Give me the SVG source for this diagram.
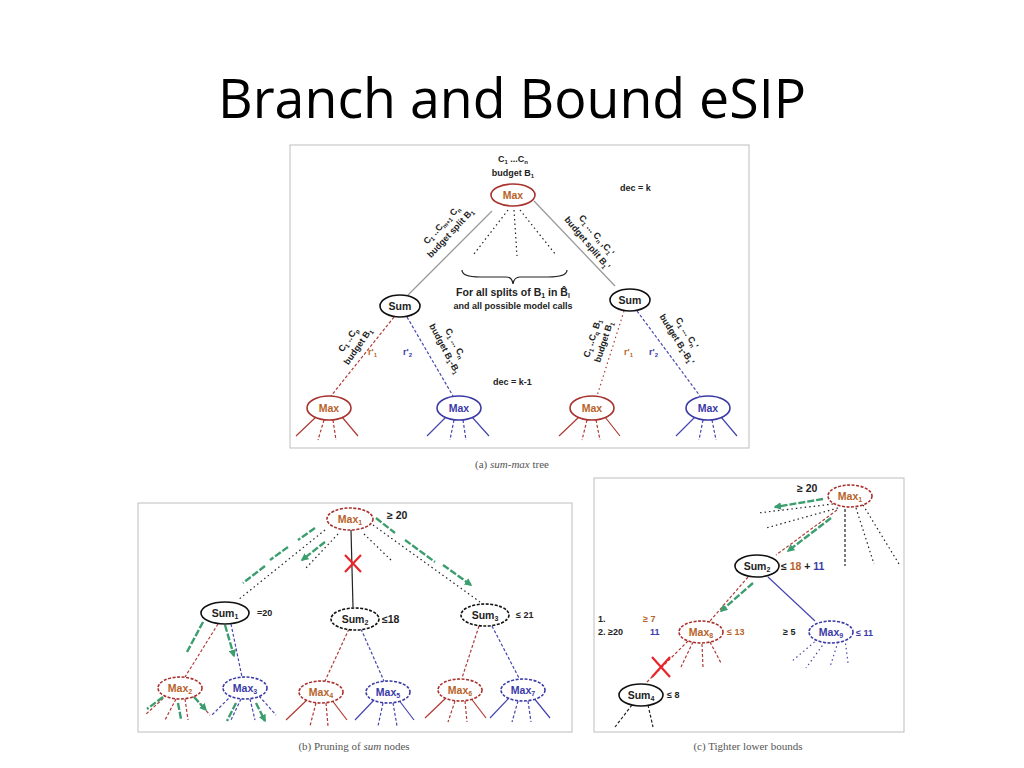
<svg xmlns="http://www.w3.org/2000/svg" width="1024" height="768" viewBox="0 0 1024 768">
<style>
.panel{fill:#fff;stroke:#bdbdbd;stroke-width:1}
.cap{font-family:"Liberation Serif",serif;font-size:11px;fill:#555;text-anchor:middle}
.t{font-family:"Liberation Sans",Arial,sans-serif;font-weight:bold;fill:#222}
.s8{font-size:8px}
.s9{font-size:9px}
.s10{font-size:10.5px}
.mid{text-anchor:middle}
.or{fill:#b8622a}
.bl{fill:#3a3aa8}
.rn{fill:#fff;stroke:#a8322d;stroke-width:1.6}
.bn{fill:#fff;stroke:#3b3ba6;stroke-width:1.6}
.kn{fill:#fff;stroke:#111;stroke-width:1.6}
.dn{stroke-dasharray:3 1.5}
.r{stroke:#b03a34;stroke-width:1.2;fill:none}
.b{stroke:#4646b0;stroke-width:1.2;fill:none}
.k{stroke:#222;stroke-width:1.2;fill:none}
.g{stroke:#9a9a9a;stroke-width:1.3;fill:none}
.d{stroke-dasharray:3 2}
.o{stroke-dasharray:1.5 3}
.gr{stroke:#3c9e6e;stroke-width:2.4;fill:none;stroke-dasharray:7 2;marker-end:url(#ga)}
.x{stroke:#e8262a;stroke-width:2.2;fill:none}
</style>
<defs>
<marker id="ga" viewBox="0 0 10 10" refX="8" refY="5" markerWidth="3.2" markerHeight="3.2" orient="auto"><path d="M0 0L10 5L0 10z" fill="#3c9e6e"/></marker>
</defs>
<rect width="1024" height="768" fill="#fff"/>
<text x="512" y="118" font-family="'Open Sans','Liberation Sans',sans-serif" font-size="54" text-anchor="middle" textLength="588" lengthAdjust="spacingAndGlyphs" fill="#000">Branch and Bound eSIP</text>

<!-- ===== Panel (a) ===== -->
<rect class="panel" x="290" y="145" width="459" height="303"/>
<text class="cap" x="512" y="468">(a) <tspan font-style="italic">sum-max</tspan> tree</text>
<g id="a-connectors">
<line class="g" x1="492" y1="211" x2="408" y2="295"/>
<line class="g" x1="534" y1="201" x2="615" y2="286"/>
<line class="k o" x1="508" y1="210" x2="474" y2="254"/>
<line class="k o" x1="514" y1="210" x2="517" y2="256"/>
<line class="k o" x1="520" y1="210" x2="556" y2="255"/>
<path class="k" d="M462 270 Q462 277 480 277 L506 277 Q512 277 513 284 Q514 277 520 277 L548 277 Q567 277 567 270" stroke-width="1.3"/>
<line class="r d" x1="394" y1="317" x2="331" y2="396"/>
<line class="b d" x1="407" y1="317" x2="453" y2="396"/>
<line class="r o" x1="624" y1="311" x2="597" y2="396" stroke-width="1.5"/>
<line class="b d" x1="637" y1="311" x2="700" y2="396"/>
</g>
<g id="a-labels">
<text class="t s9 mid" x="513" y="162">C<tspan font-size="6" dy="2">1</tspan><tspan dy="-2"> ...C</tspan><tspan font-size="6" dy="2">n</tspan></text>
<text class="t s9 mid" x="513" y="176">budget B<tspan font-size="6" dy="2">1</tspan></text>
<text class="t s9" x="620" y="191">dec = k</text>
<g transform="translate(446 229) rotate(-47)">
<text class="t s9 mid" x="0" y="-3">C<tspan font-size="6" dy="2">1</tspan><tspan dy="-2"> ..C</tspan><tspan font-size="6" dy="2">m+1</tspan><tspan dy="-2">  C</tspan><tspan font-size="6" dy="2">n</tspan></text>
<text class="t s9 mid" x="0" y="9">budget split B<tspan font-size="6" dy="2">1</tspan></text>
</g>
<g transform="translate(592 239) rotate(50)">
<text class="t s9 mid" x="0" y="-3">C<tspan font-size="6" dy="2">1</tspan><tspan dy="-2"> ... C</tspan><tspan font-size="6" dy="2">n</tspan><tspan dy="-2">  ,C</tspan><tspan font-size="6" dy="2">1</tspan><tspan dy="-2">'</tspan></text>
<text class="t s9 mid" x="0" y="9">budget split B<tspan font-size="6" dy="2">1</tspan><tspan dy="-2">'</tspan></text>
</g>
<text class="t s10 mid" x="513" y="296">For all splits of B<tspan font-size="7" dy="2">1</tspan><tspan dy="-2"> in B̂</tspan><tspan font-size="7" dy="2">l</tspan></text>
<text class="t s9 mid" x="513" y="309">and all possible model calls</text>
<g transform="translate(353 343) rotate(-55)">
<text class="t s9 mid" x="0" y="-3">C<tspan font-size="6" dy="2">1</tspan><tspan dy="-2"> ..C</tspan><tspan font-size="6" dy="2">p</tspan></text>
<text class="t s9 mid" x="0" y="9">budget B<tspan font-size="6" dy="2">1</tspan></text>
</g>
<text class="t s9 or" x="368" y="355">r'<tspan font-size="6" dy="2">1</tspan></text>
<text class="t s9 bl" x="403" y="355">r'<tspan font-size="6" dy="2">2</tspan></text>
<g transform="translate(450 346) rotate(62)">
<text class="t s9 mid" x="0" y="-3">C<tspan font-size="6" dy="2">1</tspan><tspan dy="-2"> ... C</tspan><tspan font-size="6" dy="2">n</tspan></text>
<text class="t s9 mid" x="0" y="9">budget B<tspan font-size="6" dy="2">1</tspan><tspan dy="-2">-B</tspan><tspan font-size="6" dy="2">1</tspan></text>
</g>
<text class="t s9" x="493" y="385">dec = k-1</text>
<g transform="translate(598 340) rotate(-72)">
<text class="t s9 mid" x="0" y="-3">C<tspan font-size="6" dy="2">1</tspan><tspan dy="-2"> ..C</tspan><tspan font-size="6" dy="2">q</tspan><tspan dy="-2"> B</tspan><tspan font-size="6" dy="2">1</tspan></text>
<text class="t s9 mid" x="0" y="9">budget B<tspan font-size="6" dy="2">1</tspan></text>
</g>
<text class="t s9 or" x="624" y="355">r'<tspan font-size="6" dy="2">1</tspan></text>
<text class="t s9 bl" x="649" y="355">r'<tspan font-size="6" dy="2">2</tspan></text>
<g transform="translate(682 336) rotate(58)">
<text class="t s9 mid" x="0" y="-3">C<tspan font-size="6" dy="2">1</tspan><tspan dy="-2"> ... C</tspan><tspan font-size="6" dy="2">n</tspan><tspan dy="-2">'</tspan></text>
<text class="t s9 mid" x="0" y="9">budget B<tspan font-size="6" dy="2">1</tspan><tspan dy="-2">-B</tspan><tspan font-size="6" dy="2">1</tspan><tspan dy="-2">'</tspan></text>
</g>
</g>
<g id="a-max-root"><ellipse class="rn" cx="513" cy="195" rx="22" ry="11"/><text class="t s10 mid or" x="513" y="199">Max</text></g>
<g id="a-sum-left"><ellipse class="kn" cx="400" cy="306" rx="20" ry="11"/><text class="t s10 mid" x="400" y="310">Sum</text></g>
<g id="a-sum-right"><ellipse class="kn" cx="630" cy="300" rx="20" ry="11"/><text class="t s10 mid" x="630" y="304">Sum</text></g>
<g id="a-max-1">
<path class="r" d="M316 417L296 436M342 417L358 436"/><path class="r d" d="M324 420L318 440M333 420L336 440"/>
<ellipse class="rn" cx="329" cy="408" rx="22" ry="12"/><text class="t s10 mid or" x="329" y="412">Max</text></g>
<g id="a-max-2">
<path class="b" d="M446 417L427 436M472 417L489 436"/><path class="b d" d="M454 420L450 440M463 420L466 440"/>
<ellipse class="bn" cx="459" cy="408" rx="22" ry="12"/><text class="t s10 mid bl" x="459" y="412">Max</text></g>
<g id="a-max-3">
<path class="r" d="M579 417L559 436M605 417L620 436"/><path class="r d" d="M587 420L582 440M596 420L600 440"/>
<ellipse class="rn" cx="592" cy="408" rx="22" ry="12"/><text class="t s10 mid or" x="592" y="412">Max</text></g>
<g id="a-max-4">
<path class="b" d="M695 417L676 436M721 417L737 436"/><path class="b d" d="M703 420L699 440M712 420L716 440"/>
<ellipse class="bn" cx="708" cy="408" rx="22" ry="12"/><text class="t s10 mid bl" x="708" y="412">Max</text></g>

<!-- ===== Panel (b) ===== -->
<rect class="panel" x="138" y="503" width="434" height="229"/>
<text class="cap" x="354" y="750">(b) Pruning of <tspan font-style="italic">sum</tspan> nodes</text>
<g id="b-connectors">
<line class="k o" x1="325" y1="530" x2="238" y2="600"/>
<line class="k o" x1="338" y1="534" x2="306" y2="568"/>
<line class="k o" x1="373" y1="525" x2="480" y2="602"/>
<line class="k o" x1="364" y1="534" x2="393" y2="562"/>
<line class="k" x1="351" y1="530" x2="353" y2="607" stroke-width="1.4"/>
<path class="x" d="M345 555L361 572M361 555L345 572"/>
<path class="gr" d="M315 528L298 540M288 547L270 560M265 566L243 583M325 542L302 560"/>
<path class="gr" d="M376 518L395 533M405 540L435 562M443 565L471 585"/>
<line class="r d" x1="218" y1="624" x2="185" y2="677"/>
<line class="b d" x1="231" y1="624" x2="242" y2="677"/>
<path class="gr" d="M203 622L187 652M225 625L234 656"/>
<line class="r d" x1="349" y1="629" x2="325" y2="681"/>
<line class="b d" x1="361" y1="629" x2="384" y2="681"/>
<line class="r d" x1="479" y1="626" x2="462" y2="678"/>
<line class="b d" x1="492" y1="626" x2="519" y2="678"/>
</g>
<g id="b-max-1"><ellipse class="rn dn" cx="350" cy="519" rx="23" ry="11"/><text class="t s10 mid or" x="350" y="523">Max<tspan font-size="7" dy="2">1</tspan></text>
<text class="t s10" x="387" y="519">≥ 20</text></g>
<g id="b-sum-1"><ellipse class="kn" cx="225" cy="613" rx="24" ry="11"/><text class="t s10 mid" x="225" y="617">Sum<tspan font-size="7" dy="2">1</tspan></text>
<text class="t s9" x="257" y="616">=20</text></g>
<g id="b-sum-2"><ellipse class="kn dn" cx="355" cy="619" rx="24" ry="11"/><text class="t s10 mid" x="355" y="623">Sum<tspan font-size="7" dy="2">2</tspan></text>
<text class="t s10" x="382" y="623">≤18</text></g>
<g id="b-sum-3"><ellipse class="kn dn" cx="485" cy="615" rx="24" ry="11"/><text class="t s10 mid" x="485" y="619">Sum<tspan font-size="7" dy="2">3</tspan></text>
<text class="t s9" x="516" y="618">≤ 21</text></g>
<g id="b-max-2">
<path class="r d" d="M167 695L145 715M176 699L165 720M185 699L188 720M193 696L210 715"/>
<path class="gr" d="M163 697L147 709M178 703L181 719M194 697L206 710"/>
<ellipse class="rn dn" cx="180" cy="688" rx="22" ry="11"/><text class="t s10 mid or" x="180" y="692">Max<tspan font-size="7" dy="2">2</tspan></text></g>
<g id="b-max-3">
<path class="b d" d="M232 695L212 715M241 699L231 720M250 699L255 720M259 696L276 715"/>
<path class="gr" d="M236 703L227 721M256 703L265 721"/>
<ellipse class="bn dn" cx="245" cy="688" rx="22" ry="11"/><text class="t s10 mid bl" x="245" y="692">Max<tspan font-size="7" dy="2">3</tspan></text></g>
<g id="b-max-4">
<path class="r" d="M308 699L286 720M331 699L347 720"/><path class="r d" d="M316 703L310 726M326 703L328 726"/>
<ellipse class="rn dn" cx="321" cy="692" rx="22" ry="11"/><text class="t s10 mid or" x="321" y="696">Max<tspan font-size="7" dy="2">4</tspan></text></g>
<g id="b-max-5">
<path class="b" d="M375 699L355 720M398 699L414 720"/><path class="b d" d="M383 703L378 726M393 703L397 726"/>
<ellipse class="bn dn" cx="388" cy="692" rx="22" ry="11"/><text class="t s10 mid bl" x="388" y="696">Max<tspan font-size="7" dy="2">5</tspan></text></g>
<g id="b-max-6">
<path class="r" d="M447 697L425 718M470 697L486 718"/><path class="r d" d="M455 701L448 722M465 701L467 722"/>
<ellipse class="rn dn" cx="460" cy="690" rx="22" ry="11"/><text class="t s10 mid or" x="460" y="694">Max<tspan font-size="7" dy="2">6</tspan></text></g>
<g id="b-max-7">
<path class="b" d="M510 697L490 718M533 697L550 718"/><path class="b d" d="M518 701L512 722M528 701L531 722"/>
<ellipse class="bn dn" cx="523" cy="690" rx="22" ry="11"/><text class="t s10 mid bl" x="523" y="694">Max<tspan font-size="7" dy="2">7</tspan></text></g>

<!-- ===== Panel (c) ===== -->
<rect class="panel" x="594" y="478" width="310" height="254"/>
<text class="cap" x="748" y="750">(c) Tighter lower bounds</text>
<g id="c-connectors">
<line class="k o" x1="833" y1="504" x2="758" y2="513" stroke-width="1.5"/>
<line class="k o" x1="838" y1="508" x2="766" y2="528" stroke-width="1.5"/>
<line class="k d" x1="845" y1="509" x2="845" y2="566" stroke-width="1.5"/>
<line class="k o" x1="856" y1="508" x2="874" y2="564" stroke-width="1.5"/>
<line class="k o" x1="863" y1="505" x2="899" y2="564" stroke-width="1.5"/>
<path class="gr" d="M823 499L775 507"/>
<line class="r d" x1="837" y1="510" x2="776" y2="555"/>
<path class="gr" d="M831 518L788 551"/>
<line class="r d" x1="748" y1="577" x2="710" y2="621"/>
<path class="gr" d="M753 583L721 611"/>
<line class="b" x1="768" y1="577" x2="815" y2="621" stroke-width="1"/>
<line class="r d" x1="688" y1="641" x2="646" y2="683"/>
<path class="x" d="M652 657L670 677M670 657L652 677"/>
</g>
<g id="c-max-1"><ellipse class="rn dn" cx="850" cy="496" rx="22" ry="11"/><text class="t s10 mid or" x="850" y="500">Max<tspan font-size="7" dy="2">1</tspan></text>
<text class="t s10" x="797" y="492">≥ 20</text></g>
<g id="c-sum-2"><ellipse class="kn" cx="757" cy="566" rx="22" ry="11"/><text class="t s10 mid" x="757" y="570">Sum<tspan font-size="7" dy="2">2</tspan></text>
<text class="t s10" x="781" y="570">≤ <tspan class="or">18</tspan> + <tspan class="bl">11</tspan></text></g>
<g id="c-bounds">
<text class="t s9" x="598" y="622">1.</text><text class="t s9 or" x="643" y="622">≥ 7</text>
<text class="t s9" x="598" y="635">2. ≥20</text><text class="t s9 bl" x="650" y="635">11</text>
</g>
<g id="c-max-8">
<path class="r d" d="M693 642L681 667M702 644L703 668M710 642L721 663"/>
<ellipse class="rn dn" cx="701" cy="632" rx="22" ry="11"/><text class="t s10 mid or" x="701" y="636">Max<tspan font-size="7" dy="2">8</tspan></text>
<text class="t s9 or" x="727" y="635">≤ 13</text></g>
<g id="c-max-9">
<path class="b o" d="M818 639L791 662M825 642L806 668M838 642L830 667M845 639L848 663" stroke-width="1.5"/>
<text class="t s9" x="783" y="635">≥ 5</text>
<ellipse class="bn dn" cx="831" cy="632" rx="22" ry="11"/><text class="t s10 mid bl" x="831" y="636">Max<tspan font-size="7" dy="2">9</tspan></text>
<text class="t s9 bl" x="856" y="636">≤ 11</text></g>
<g id="c-sum-4">
<path class="k d" d="M632 705L615 727M648 705L653 727" stroke-width="1.4"/>
<ellipse class="kn" cx="641" cy="695" rx="22" ry="11"/><text class="t s10 mid" x="641" y="699">Sum<tspan font-size="7" dy="2">4</tspan></text>
<text class="t s9" x="667" y="698">≤ 8</text></g>
</svg>
